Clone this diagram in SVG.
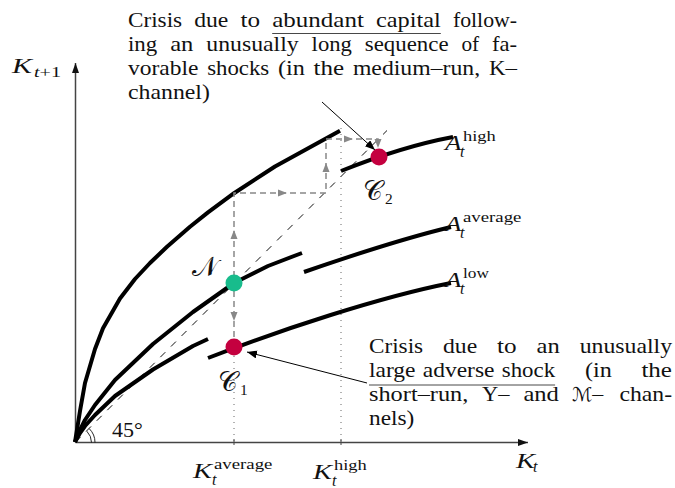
<svg xmlns="http://www.w3.org/2000/svg" xmlns:xlink="http://www.w3.org/1999/xlink" width="675" height="488" viewBox="0 0 675 488">
<style>
.t{font-family:"Liberation Serif","Times New Roman",serif;font-size:22px;fill:#111}
.mi{font-family:"Liberation Serif","Times New Roman",serif;font-style:italic;font-size:22px;fill:#111}
.sup{font-family:"Liberation Serif","Times New Roman",serif;font-size:15.4px;fill:#111}
.sub{font-family:"Liberation Serif","Times New Roman",serif;font-style:italic;font-size:16px;fill:#111}
.cal{font-family:"DejaVu Serif","DejaVu Sans",serif;font-size:27px;fill:#111}
.calm{font-family:"DejaVu Serif","DejaVu Sans",serif;font-size:19px}
.curve{fill:none;stroke:#000;stroke-width:4;stroke-linejoin:round}
.axis{fill:none;stroke:#444;stroke-width:1.5}
.dot{fill:none;stroke:#666;stroke-width:1;stroke-dasharray:1 5}
.gd{fill:none;stroke:#888;stroke-width:1.5;stroke-dasharray:6 4}
.diag{fill:none;stroke:#111;stroke-width:1;stroke-dasharray:7 8}
.ul{stroke:#333;stroke-width:0.9}
.ptr{fill:none;stroke:#000;stroke-width:1;marker-end:url(#ba)}
</style>
<defs>
<marker id="ba" markerWidth="12" markerHeight="10" refX="10" refY="4" orient="auto" markerUnits="userSpaceOnUse"><path d="M0,0 L10,4 L0,8 Z" fill="#000"/></marker>
<marker id="ax" markerWidth="12" markerHeight="10" refX="10" refY="4" orient="auto" markerUnits="userSpaceOnUse"><path d="M0,0.5 L10,4 L0,7.5 Z" fill="#111"/></marker>
<path id="gh" d="M0,0 L-9,-3.5 L-9,3.5 Z" fill="#888"/>
</defs>

<g id="axes">
<line class="axis" x1="75.5" y1="442.5" x2="75.5" y2="63" marker-end="url(#ax)"/>
<line class="axis" x1="75.5" y1="442.5" x2="528" y2="442.5" marker-end="url(#ax)"/>
<line stroke="#444" stroke-width="1" x1="234" y1="439" x2="234" y2="445"/>
<line stroke="#444" stroke-width="1" x1="341" y1="439" x2="341" y2="445"/>
<path d="M91.5,442.5 A16,16 0 0 0 86.8,431.2" fill="none" stroke="#111" stroke-width="0.9"/>
<path d="M95,442.5 A19.5,19.5 0 0 0 89.3,428.7" fill="none" stroke="#111" stroke-width="0.9"/>
<text class="t" x="112" y="437">45°</text>
<text class="mi" x="12" y="73" textLength="20" lengthAdjust="spacingAndGlyphs">K</text>
<text class="sup" x="34" y="77" textLength="27" lengthAdjust="spacingAndGlyphs"><tspan font-style="italic">t</tspan>+1</text>
<text class="mi" x="516" y="468" textLength="19" lengthAdjust="spacingAndGlyphs">K</text>
<text class="sub" x="533" y="471.5">t</text>
</g>

<g id="guides">
<line class="diag" x1="75.5" y1="442" x2="387" y2="130.5"/>
<line class="dot" x1="234" y1="356" x2="234" y2="442"/>
<line class="dot" x1="341" y1="128" x2="341" y2="442"/>
</g>

<g id="curves">
<path id="curve-high-1" class="curve" d="M75,442 L80,411 L85,383 L95,349 L103,328.2 L120,298.5 L135,279 L150,263 L167,246.8 L190,226.8 L208,212.4 L234,193.2 L275,166.5 L340,130.7"/>
<path id="curve-high-2" class="curve" d="M341,171 C366,161 410,145 453,137"/>
<path id="curve-avg-1" class="curve" d="M75,442 L80,430 L85,420 L95,405 L115,380 L153,344 L193,312 L234,283 L268,266 L302,253"/>
<path id="curve-avg-2" class="curve" d="M304,272 C353,255 401,239 451,227"/>
<path id="curve-low-1" class="curve" d="M75,442 L80,433 L85,426 L95,415 L115,396 L153,369.5 L193,346 L208,339"/>
<path id="curve-low-2" class="curve" d="M208,358 C280,330 380,297 451,283"/>
</g>

<g id="connectors">
<path class="gd" d="M234,347 V193 H326 V139 H378 V145"/>
<use xlink:href="#gh" href="#gh" transform="translate(234,230) rotate(-90)"/>
<use xlink:href="#gh" href="#gh" transform="translate(234,321) rotate(90)"/>
<use xlink:href="#gh" href="#gh" transform="translate(287,193)"/>
<use xlink:href="#gh" href="#gh" transform="translate(326,163) rotate(-90)"/>
<use xlink:href="#gh" href="#gh" transform="translate(353,139)"/>
<use xlink:href="#gh" href="#gh" transform="translate(378,148) rotate(90)"/>
<line class="ptr" x1="322" y1="102" x2="375" y2="150"/>
<line class="ptr" x1="367" y1="383" x2="247" y2="352"/>
</g>

<g id="node-N">
<circle cx="234" cy="283" r="8.5" fill="#18BC8C"/>
<text class="cal" x="192" y="276">𝒩</text>
</g>
<g id="node-C1">
<circle cx="234" cy="347" r="8.5" fill="#C4003F"/>
<text class="cal" x="218" y="391">𝒞</text>
<text class="sup" x="240" y="395">1</text>
</g>
<g id="node-C2">
<circle cx="379" cy="157" r="8.5" fill="#C4003F"/>
<text class="cal" x="363" y="200">𝒞</text>
<text class="sup" x="385" y="204">2</text>
</g>

<g id="label-A-high">
<text class="mi" x="445" y="150" textLength="16.5" lengthAdjust="spacingAndGlyphs">A</text>
<text class="sup" x="463" y="141" textLength="32.8" lengthAdjust="spacingAndGlyphs">high</text>
<text class="sub" x="460" y="157">t</text>
</g>
<g id="label-A-average">
<text class="mi" x="445" y="231" textLength="16.5" lengthAdjust="spacingAndGlyphs">A</text>
<text class="sup" x="463" y="222" textLength="58.4" lengthAdjust="spacingAndGlyphs">average</text>
<text class="sub" x="460" y="238">t</text>
</g>
<g id="label-A-low">
<text class="mi" x="445" y="287" textLength="16.5" lengthAdjust="spacingAndGlyphs">A</text>
<text class="sup" x="463" y="278" textLength="25.9" lengthAdjust="spacingAndGlyphs">low</text>
<text class="sub" x="460" y="294">t</text>
</g>
<g id="label-K-average">
<text class="mi" x="193" y="478" textLength="19" lengthAdjust="spacingAndGlyphs">K</text>
<text class="sup" x="214" y="469" textLength="58.4" lengthAdjust="spacingAndGlyphs">average</text>
<text class="sub" x="212" y="485">t</text>
</g>
<g id="label-K-high">
<text class="mi" x="313" y="479" textLength="19" lengthAdjust="spacingAndGlyphs">K</text>
<text class="sup" x="334" y="470" textLength="32.8" lengthAdjust="spacingAndGlyphs">high</text>
<text class="sub" x="332" y="486">t</text>
</g>

<g id="note-top">
<text class="t" x="128" y="27" textLength="54.1" lengthAdjust="spacingAndGlyphs">Crisis</text>
<text class="t" x="194.2" y="27" textLength="34.2" lengthAdjust="spacingAndGlyphs">due</text>
<text class="t" x="240.5" y="27" textLength="19.6" lengthAdjust="spacingAndGlyphs">to</text>
<text class="t" x="272.2" y="27" textLength="91.7" lengthAdjust="spacingAndGlyphs">abundant</text>
<text class="t" x="376" y="27" textLength="64.8" lengthAdjust="spacingAndGlyphs">capital</text>
<text class="t" x="452.9" y="27" textLength="64.2" lengthAdjust="spacingAndGlyphs">follow-</text>
<line class="ul" x1="272.2" y1="33.5" x2="440.8" y2="33.5"/>
<text class="t" x="128" y="51" textLength="29.3" lengthAdjust="spacingAndGlyphs">ing</text>
<text class="t" x="170.2" y="51" textLength="23.2" lengthAdjust="spacingAndGlyphs">an</text>
<text class="t" x="206.3" y="51" textLength="92.4" lengthAdjust="spacingAndGlyphs">unusually</text>
<text class="t" x="311.6" y="51" textLength="40.3" lengthAdjust="spacingAndGlyphs">long</text>
<text class="t" x="364.8" y="51" textLength="83.8" lengthAdjust="spacingAndGlyphs">sequence</text>
<text class="t" x="461.4" y="51" textLength="17.7" lengthAdjust="spacingAndGlyphs">of</text>
<text class="t" x="492" y="51" textLength="25.1" lengthAdjust="spacingAndGlyphs">fa-</text>
<text class="t" x="128" y="75" textLength="70.4" lengthAdjust="spacingAndGlyphs">vorable</text>
<text class="t" x="207.2" y="75" textLength="62" lengthAdjust="spacingAndGlyphs">shocks</text>
<text class="t" x="277.9" y="75" textLength="26.9" lengthAdjust="spacingAndGlyphs">(in</text>
<text class="t" x="313.6" y="75" textLength="30.6" lengthAdjust="spacingAndGlyphs">the</text>
<text class="t" x="352.9" y="75" textLength="127.2" lengthAdjust="spacingAndGlyphs">medium–run,</text>
<text class="t" x="488.9" y="75" textLength="28.1" lengthAdjust="spacingAndGlyphs">K–</text>
<text class="t" x="128" y="99" textLength="81.9" lengthAdjust="spacingAndGlyphs">channel)</text>
</g>

<g id="note-bottom">
<text class="t" x="369" y="353" textLength="54.1" lengthAdjust="spacingAndGlyphs">Crisis</text>
<text class="t" x="443" y="353" textLength="34.2" lengthAdjust="spacingAndGlyphs">due</text>
<text class="t" x="497.1" y="353" textLength="19.6" lengthAdjust="spacingAndGlyphs">to</text>
<text class="t" x="536.6" y="353" textLength="23.2" lengthAdjust="spacingAndGlyphs">an</text>
<text class="t" x="579.7" y="353" textLength="92.4" lengthAdjust="spacingAndGlyphs">unusually</text>
<text class="t" x="369" y="377" textLength="46.5" lengthAdjust="spacingAndGlyphs">large</text>
<text class="t" x="422.8" y="377" textLength="71.7" lengthAdjust="spacingAndGlyphs">adverse</text>
<text class="t" x="501.8" y="377" textLength="53.3" lengthAdjust="spacingAndGlyphs">shock</text>
<text class="t" x="584.9" y="377" textLength="26.9" lengthAdjust="spacingAndGlyphs">(in</text>
<text class="t" x="641.4" y="377" textLength="30.6" lengthAdjust="spacingAndGlyphs">the</text>
<line class="ul" x1="369" y1="385" x2="555.1" y2="385"/>
<text class="t" x="369" y="401" textLength="99.3" lengthAdjust="spacingAndGlyphs">short–run,</text>
<text class="t" x="482.1" y="401" textLength="27.5" lengthAdjust="spacingAndGlyphs">Y–</text>
<text class="t" x="523.4" y="401" textLength="35.5" lengthAdjust="spacingAndGlyphs">and</text>
<text class="t" x="572" y="401"><tspan class="calm">ℳ</tspan>–</text>
<text class="t" x="619.5" y="401" textLength="52.6" lengthAdjust="spacingAndGlyphs">chan-</text>
<text class="t" x="369" y="425" textLength="45.3" lengthAdjust="spacingAndGlyphs">nels)</text>
</g>
</svg>
